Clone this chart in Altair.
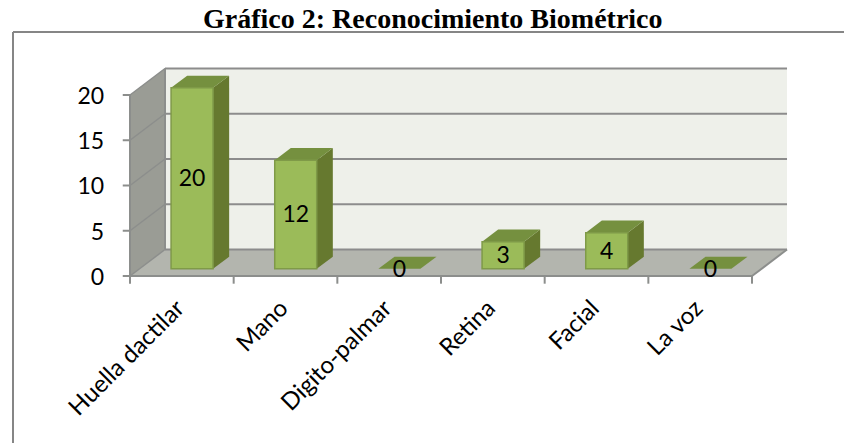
import altair as alt
import pandas as pd

title = "Gráfico 2: Reconocimiento Biométrico"
categories = ["Huella dactilar", "Mano", "Digito-palmar", "Retina", "Facial", "La voz"]
values = [20, 12, 0, 3, 4, 0]
y_ticks = [0, 5, 10, 15, 20]

# oblique projection: one unit of depth shifts a point right and upward
DX, DY = 35 / 103.67, 26.5 / 9.05
BAR_L, BAR_R = 0.305, 0.71
D0, D1 = 0.27, 0.73
N = len(categories)
XMAX = 20

def P(x, v, d):
    return x + d * DX, v + d * DY

WIDTH, HEIGHT = 831, 416
XDOM = [(13 - 130) / 103.67, (844 - 130) / 103.67]
YDOM = [(276 - 448) / 9.05, (276 - 32) / 9.05]
xs = alt.Scale(domain=XDOM, nice=False, zero=False)
ys = alt.Scale(domain=YDOM, nice=False, zero=False)
X = lambda f="x": alt.X(f, type="quantitative", scale=xs, axis=None, stack=None)
Y = lambda f="y": alt.Y(f, type="quantitative", scale=ys, axis=None, stack=None)


def segs(rows):
    return alt.Data(values=[dict(zip(("x", "y", "x2", "y2"), r)) for r in rows])


def rules(rows, color, width):
    return (
        alt.Chart(segs(rows))
        .mark_rule(color=color, strokeWidth=width)
        .encode(x=X(), y=Y(), x2="x2:Q", y2="y2:Q")
    )


def vertical_faces(faces, color):
    rows = []
    for i, (a, b, lo, hi, da, db) in enumerate(faces):
        for x, d in ((a, da), (b, db)):
            px, py = P(x, lo, d)
            _, py2 = P(x, hi, d)
            rows.append({"id": i, "x": px, "y": py, "y2": py2})
    return (
        alt.Chart(alt.Data(values=rows))
        .mark_area(color=color, opacity=1)
        .encode(x=X(), y=Y(), y2="y2:Q", detail="id:N")
    )


def horizontal_faces(faces, color, stroke=None):
    rows = []
    for i, (a, b, v, d0, d1) in enumerate(faces):
        for d in (d0, d1):
            px, py = P(a, v, d)
            px2, _ = P(b, v, d)
            rows.append({"id": i, "x": px, "x2": px2, "y": py})
    return (
        alt.Chart(alt.Data(values=rows))
        .mark_area(color=color, opacity=1, orient="horizontal")
        .encode(y=Y(), x=X(), x2="x2:Q", detail="id:N")
    )


# chart frame: top and left edges only
frame_top = (
    alt.Chart(alt.Data(values=[{"a": 0}]))
    .mark_rule(color="#868686", strokeWidth=2)
    .encode(x=alt.value(0), x2=alt.value(WIDTH), y=alt.value(0))
)
frame_left = (
    alt.Chart(alt.Data(values=[{"a": 0}]))
    .mark_rule(color="#868686", strokeWidth=2)
    .encode(x=alt.value(0), y=alt.value(0), y2=alt.value(HEIGHT))
)

# room
back0 = P(0, 0, 1)
back1 = P(N, XMAX, 1)
back_wall = (
    alt.Chart(alt.Data(values=[{"x": back0[0], "x2": back1[0], "y": back0[1], "y2": back1[1]}]))
    .mark_rect(color="#EEF0EA")
    .encode(x=X(), x2="x2:Q", y=Y(), y2="y2:Q")
)
left_wall = vertical_faces([(0, 0, 0, XMAX, 0, 1)], "#9A9C95")
floor = horizontal_faces([(0, N, 0, 0, 1)], "#B3B5AE")

grid_rows = [P(0, v, 1) + P(N, v, 1) for v in y_ticks]
wall_rows = [P(0, v, 0) + P(0, v, 1) for v in y_ticks]
edge_rows = [
    P(0, 0, 0) + P(N, 0, 0),
    P(N, 0, 0) + P(N, 0, 1),
    P(0, 0, 0) + P(0, XMAX, 0),
    P(0, 0, 1) + P(0, XMAX, 1),
]
tick_y = [(0, v, -0.07, v) for v in y_ticks]
tick_x = [(i, 0, i, -0.85) for i in range(N + 1)]

# bars
front = [
    {"x": P(i + BAR_L, 0, D0)[0], "x2": P(i + BAR_R, 0, D0)[0],
     "y": P(0, 0, D0)[1], "y2": P(0, v, D0)[1]}
    for i, v in enumerate(values) if v > 0
]
front_mark = (
    alt.Chart(alt.Data(values=front))
    .mark_rect(color="#9BBB59", stroke="#7F9A48", strokeWidth=1.5)
    .encode(x=X(), x2="x2:Q", y=Y(), y2="y2:Q")
)
side = vertical_faces(
    [(i + BAR_R, i + BAR_R, 0, v, D0, D1) for i, v in enumerate(values) if v > 0], "#66792F"
)
top = horizontal_faces(
    [(i + BAR_L, i + BAR_R, v, D0, D1) for i, v in enumerate(values)], "#75903F"
)

# texts
FONT = "Lato"
bar_labels = pd.DataFrame(
    {
        "x": [P(i + (BAR_L + BAR_R) / 2, 0, D0)[0] for i in range(N)],
        "y": [P(0, v / 2, D0)[1] - 0.1 for v in values],
        "t": [str(v) for v in values],
    }
)
bar_text = (
    alt.Chart(bar_labels)
    .mark_text(font=FONT, fontSize=23, color="#000000")
    .encode(x=X(), y=Y(), text="t:N")
)
y_text = (
    alt.Chart(pd.DataFrame({"x": [-0.25] * len(y_ticks), "y": [v - 0.2 for v in y_ticks], "t": [str(v) for v in y_ticks]}))
    .mark_text(font=FONT, fontSize=23, color="#000000", align="right")
    .encode(x=X(), y=Y(), text="t:N")
)
x_text = (
    alt.Chart(pd.DataFrame({"x": [i + 0.49 for i in range(N)], "y": [-3.2] * N, "t": categories}))
    .mark_text(font=FONT, fontSize=24, color="#000000", align="right", baseline="middle", angle=315)
    .encode(x=X(), y=Y(), text="t:N")
)

chart = (
    alt.layer(
        frame_top,
        frame_left,
        back_wall,
        left_wall,
        floor,
        rules(grid_rows, "#8C8C8C", 2),
        rules(wall_rows, "#8C8E8C", 1.5),
        rules(edge_rows, "#8C8E8C", 2),
        rules(tick_y, "#8C8E8C", 2),
        rules(tick_x, "#8C8E8C", 2),
        side,
        top,
        front_mark,
        bar_text,
        y_text,
        x_text,
    )
    .properties(
        width=WIDTH,
        height=HEIGHT,
        padding={"left": 5, "top": 24, "right": 0, "bottom": 0},
        autosize=alt.AutoSizeParams(type="none"),
        title=alt.TitleParams(
            title,
            font="Liberation Serif",
            fontSize=28,
            fontWeight="bold",
            color="#000000",
            anchor="start",
            offset=-3,
            dx=191,
        ),
    )
    .configure_view(stroke=None)
)

chart.save("out.html", embed_options={"renderer": "svg", "actions": False})
